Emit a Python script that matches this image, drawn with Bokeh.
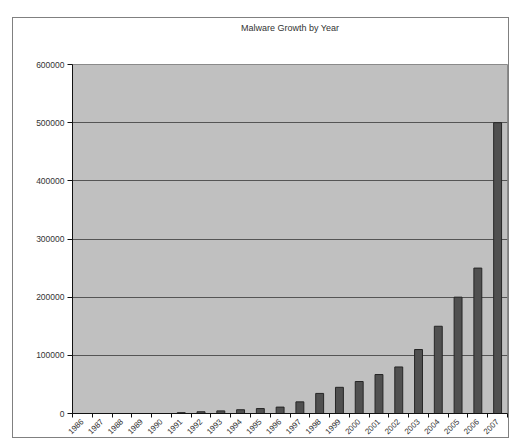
import math
from bokeh.plotting import figure
from bokeh.models import FixedTicker, NumeralTickFormatter, Range1d
from bokeh.embed import file_html
from bokeh.resources import INLINE

years = list(range(1986, 2008))
malware = [0, 0, 0, 0, 0, 1500, 3000, 4500, 6500, 8500, 11000, 20000, 34500,
           45000, 55000, 67000, 80000, 110000, 150000, 200000, 250000, 500000]
y_ticks = [0, 100000, 200000, 300000, 400000, 500000, 600000]
title_text = "Malware Growth by Year"

FONT = "Liberation Sans"

p = figure(width=495, height=419, output_backend="svg", toolbar_location=None,
           x_range=Range1d(years[0] - 0.5, years[-1] + 0.5),
           y_range=Range1d(0, 600000),
           min_border_left=59, min_border_right=3, min_border_top=41, min_border_bottom=25,
           margin=(17, 0, 0, 12),
           styles={"border": "1px solid #808080", "box-sizing": "content-box"})

# title pushed upward by two blank lines beneath it
p.title.text = title_text + "\n\n"
p.title.align = "center"
p.title.text_font = FONT
p.title.text_font_size = "9px"
p.title.text_font_style = "normal"
p.title.text_color = "#333333"
p.title.text_line_height = 1.5
p.title.standoff = 4

p.background_fill_color = "#c0c0c0"
p.border_fill_color = "white"
p.outline_line_color = "#8a8a8a"
p.outline_line_width = 1

p.vbar(x=years, top=malware, width=0.4, fill_color="#505050", line_color="#262626", line_width=1)

p.xgrid.visible = False
p.ygrid.grid_line_color = "#555555"
p.ygrid.grid_line_width = 1
p.ygrid.ticker = FixedTicker(ticks=y_ticks)

p.yaxis.ticker = FixedTicker(ticks=y_ticks)
p.yaxis.formatter = NumeralTickFormatter(format="0")
p.yaxis.axis_line_color = "#111111"
p.yaxis.major_tick_line_color = "#111111"
p.yaxis.major_tick_out = 5
p.yaxis.major_tick_in = 0
p.yaxis.minor_tick_line_color = None
p.yaxis.major_label_text_font = FONT
p.yaxis.major_label_text_font_size = "8.5px"
p.yaxis.major_label_text_color = "#333333"
p.yaxis.major_label_standoff = 3

p.xaxis.ticker = FixedTicker(ticks=years, minor_ticks=[y - 0.5 for y in years] + [years[-1] + 0.5])
p.xaxis.axis_line_color = "#111111"
p.xaxis.major_tick_out = 0
p.xaxis.major_tick_in = 0
p.xaxis.minor_tick_out = 4
p.xaxis.minor_tick_in = 0
p.xaxis.minor_tick_line_color = "#111111"
p.xaxis.major_label_orientation = math.pi / 4
p.xaxis.major_label_text_font = FONT
p.xaxis.major_label_text_font_size = "8px"
p.xaxis.major_label_text_color = "#333333"
p.xaxis.major_label_standoff = 3

open("out.html", "w").write(file_html(p, INLINE))
